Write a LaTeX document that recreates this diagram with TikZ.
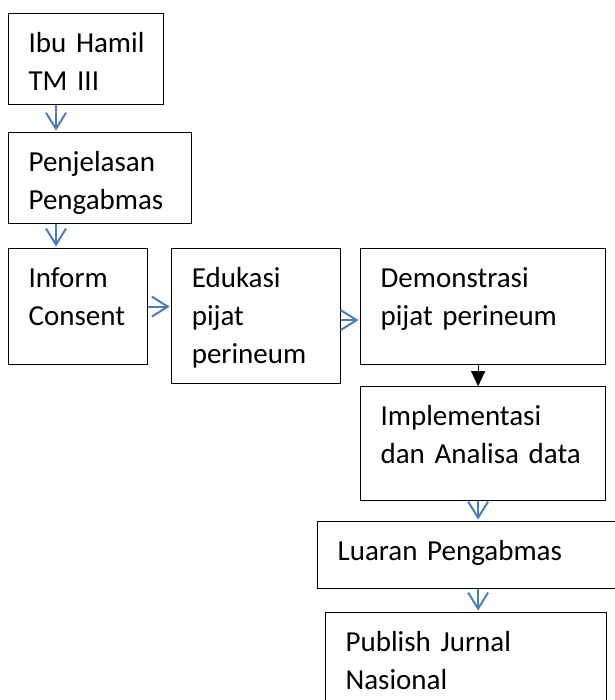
\documentclass[tikz,border=0pt]{standalone}
\usepackage{fontspec}
\setmainfont{Carlito}
\usetikzlibrary{positioning}
\usetikzlibrary{arrows.meta}
\definecolor{flowblue}{RGB}{74,126,187}
\tikzset{
  stepbox/.style={draw, line width=1.2pt, anchor=north west, align=left,
    inner xsep=20pt, inner ysep=0pt, text height=39pt,
    font=\fontsize{29}{38}\selectfont},
  bluearrow/.style={draw=flowblue, line width=2pt,
    -{Straight Barb[length=16pt,width=20pt]}, shorten >=1.5pt},
  blackarrow/.style={draw=black, line width=1.2pt,
    -{Triangle[length=15pt,width=14pt]}}
}

\begin{document}
\begin{tikzpicture}[x=1pt,y=-1pt]
\useasboundingbox (0,0) rectangle (614,700);

\node[stepbox, text width=115pt, text depth=52pt] (b1) at (8,13) {Ibu~Hamil\\TM~III};
\node[stepbox, text width=143pt, text depth=52pt, below=27pt of b1.south west, anchor=north west] (b2) {Penjelasan\\Pengabmas};
\node[stepbox, text width=99pt, text depth=77pt] (b3) at (8,248) {Inform\\Consent};
\node[stepbox, text width=129pt, text depth=96pt, right=23pt of b3.north east, anchor=north west] (b4) {Edukasi\\pijat\\perineum};
\node[stepbox, text width=205pt, text depth=77pt] (b5) at (360,248) {Demonstrasi\\pijat~perineum};
\node[stepbox, text width=205pt, text depth=75pt, below=21pt of b5.south west, anchor=north west] (b6) {Implementasi\\dan~Analisa~data};
\node[stepbox, text width=280pt, text depth=28pt] (b7) at (317,521) {Luaran~Pengabmas};
\node[stepbox, text width=241pt, text depth=81pt] (b8) at (325,612) {Publish~Jurnal\\Nasional};

% connectors
\coordinate (col) at ([xshift=-5pt]b5.south);
\draw[bluearrow] ([xshift=48pt]b1.south west) -- ([xshift=48pt]b1.south west |- b2.north);
\draw[bluearrow] ([xshift=48pt]b2.south west) -- ([xshift=48pt]b2.south west |- b3.north);
\draw[bluearrow] (b3.east) -- (b3.east -| b4.west);
\draw[bluearrow] ([yshift=-4pt]b4.east) -- ([yshift=-4pt]b4.east -| b5.west);
\draw[blackarrow] (col) -- (col |- b6.north);
\draw[bluearrow] (col |- b6.south) -- (col |- b7.north);
\draw[bluearrow] (col |- b7.south) -- (col |- b8.north);
\end{tikzpicture}
\end{document}
